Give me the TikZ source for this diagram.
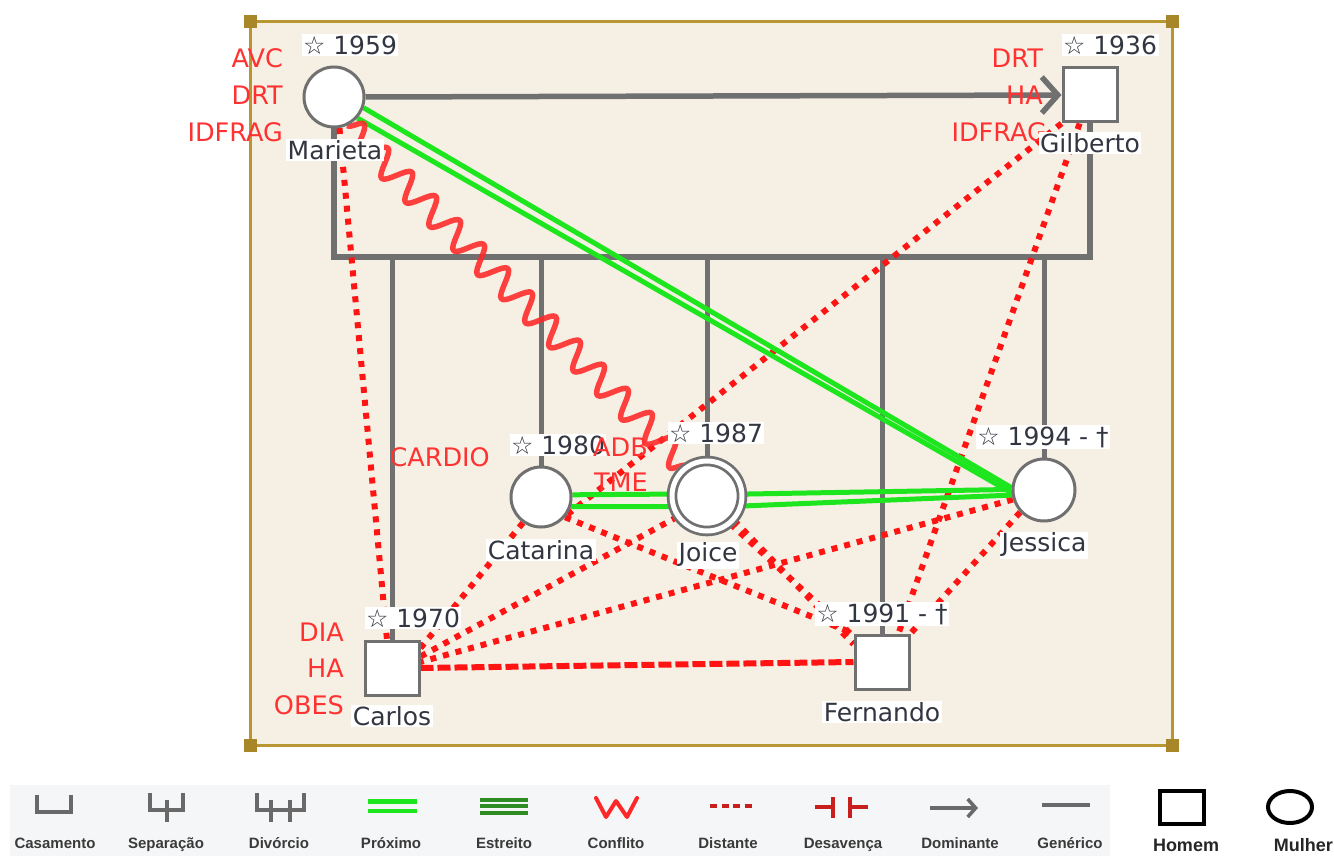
\documentclass[tikz,border=0pt]{standalone}
\usepackage{fontspec}
\setmainfont{DejaVu Sans}
\newfontfamily\legfont{Liberation Sans}
\usetikzlibrary{arrows.meta,decorations.pathmorphing,calc}
\pgfdeclarelayer{frame}
\pgfdeclarelayer{conn}
\pgfdeclarelayer{top}
\pgfsetlayers{frame,conn,main,top}

\definecolor{beige}{RGB}{246,240,228}
\definecolor{gold}{RGB}{184,150,50}
\definecolor{golddark}{RGB}{168,134,42}
\definecolor{lgray}{RGB}{112,112,112}
\definecolor{txt}{RGB}{50,54,64}
\definecolor{rlbl}{RGB}{255,50,50}
\definecolor{proxc}{RGB}{30,230,30}
\definecolor{estrc}{RGB}{46,140,34}
\definecolor{distc}{RGB}{255,20,20}
\definecolor{confc}{RGB}{255,40,40}
\definecolor{legbg}{RGB}{245,246,247}
\definecolor{legtxt}{RGB}{58,58,58}
\definecolor{desavc}{RGB}{200,30,30}
\definecolor{legicon}{RGB}{105,105,105}

\begin{document}
\begin{tikzpicture}[x=1pt,y=-1pt,
  person/.style={draw=lgray, line width=3pt, fill=white, inner sep=0pt},
  woman/.style={person, circle, minimum size=60pt},
  man/.style={person, rectangle, minimum size=54pt},
  joicebox/.style={circle, draw=lgray, double=white, double distance=5pt, line width=2.8pt, fill=white, minimum size=70pt, inner sep=0pt},
  lbl/.style={fill=white, text=txt, inner sep=1.5pt, font=\fontsize{25}{27}\selectfont},
  dis/.style={text=rlbl, anchor=east, inner sep=0pt, font=\fontsize{25.5}{27}\selectfont},
  famline/.style={draw=lgray, line width=6pt, line join=miter},
  childline/.style={draw=lgray, line width=5pt},
  domline/.style={draw=lgray, line width=5.5pt, -{Straight Barb[length=16pt,width=36pt]}},
  proxline/.style={draw=proxc, line width=5pt},
  distline/.style={draw=distc, line width=6pt, dash pattern=on 6pt off 7pt},
  dashline/.style={draw=distc, line width=6pt, dash pattern=on 13pt off 4pt},
  confline/.style={draw=confc, line width=5.5pt, opacity=0.88, line join=round, decorate, decoration={snake, amplitude=13pt, segment length=34pt}},
  leglbl/.style={text=legtxt, inner sep=0pt, anchor=base, font=\legfont\bfseries\fontsize{15}{17}\selectfont},
  legbig/.style={text=black!85, inner sep=0pt, anchor=base, font=\legfont\bfseries\fontsize{18}{20}\selectfont},
  legstroke/.style={draw=legicon, line width=3.5pt}
]
\useasboundingbox (0,0) rectangle (1334,856);

% frame
\begin{pgfonlayer}{frame}
\draw[draw=gold, line width=3pt, fill=beige] (250,22) rectangle (1172,745);
\foreach \p in {(250,22),(1172,22),(250,745),(1172,745)}
  \fill[golddark] \p ++(-6.5,-6.5) rectangle ++(13,13);
\end{pgfonlayer}

% persons
\node[woman] (mar) at (334,97) {};
\node[man] (gil) at (1090,95) {};
\node[woman] (cat) at (541,497) {};
\node[joicebox] (joi) at (707,496) {};
\node[woman, minimum size=62pt] (jes) at (1044,490) {};
\node[man] (car) at (392,668) {};
\node[man] (fer) at (882,662) {};
\coordinate (mbar) at (0,257);

% connectors
\begin{pgfonlayer}{conn}
\draw[famline] (mar.center) -- (mar.center |- mbar) -- (gil.center |- mbar) -- (gil.center);
\foreach \c in {car,cat,joi,fer,jes}
  \draw[childline] (\c.center |- mbar) -- (\c.center);
\draw[domline] (mar.east) -- (gil.west);
% distant
\draw[distline] (mar.-80) -- (car.100);
\draw[distline] (gil.south west) -- (cat.-35);
\draw[distline] (gil.-110) -- (fer.60);
\draw[distline] (jes.-137) -- (fer.north east);
\draw[distline] (jes.197) -- (car.12);
\draw[distline] (cat.-40) -- (fer.north west);
\draw[distline] (joi.-42) -- (fer.148);
\draw[distline] (joi.-50) -- (fer.138);
\draw[distline] (joi.-145) -- (car.22);
\draw[distline] (cat.-125) -- (car.35);
\draw[dashline] (car.east) -- (fer.west);
% close
\draw[proxline] (mar.-20) -- (jes.176);
\draw[proxline] (mar.-42) -- (jes.185);
\draw[proxline] (cat.4) -- (joi.177);
\draw[proxline] (cat.-18) -- (joi.197);
\draw[proxline] (joi.3) -- (jes.179);
\draw[proxline] (joi.-16) -- (jes.189);
% conflict
\draw[confline] (mar.-65) -- (joi.125);
\end{pgfonlayer}

% labels
\begin{pgfonlayer}{top}
\node[dis] (marD1) at (283,58) {AVC};
\node[dis] (marD2) at (283,95) {DRT};
\node[dis] (marD3) at (283,132) {IDFRAG};
\node[dis] (gilD1) at (1043,58) {DRT};
\node[dis] (gilD2) at (1043,95) {HA};
\node[dis] (gilD3) at (1047,132) {IDFRAG};
\node[dis] (catD1) at (490,457) {CARDIO};
\node[dis] (carD1) at (344,632) {DIA};
\node[dis] (carD2) at (344,668) {HA};
\node[dis] (carD3) at (344,705) {OBES};

\node[lbl] (marB) at (350,45) {☆ 1959};
\node[lbl] (marN) at (335,150) {Marieta};
\node[lbl] (gilB) at (1110,45) {☆ 1936};
\node[lbl] (gilN) at (1090,143) {Gilberto};
\node[lbl] (catB) at (558,445) {☆ 1980};
\node[lbl] (catN) at (541,550) {Catarina};
\node[lbl] (joiB) at (716,433) {☆ 1987};
\node[lbl] (joiN) at (708,555) {Joice};
\node[lbl] (jesB) at (1043,437) {☆ 1994 - †};
\node[lbl] (jesN) at (1044,545) {Jessica};
\node[lbl] (carB) at (413,618) {☆ 1970};
\node[lbl] (carN) at (392,716) {Carlos};
\node[lbl] (ferB) at (882,614) {☆ 1991 - †};
\node[lbl] (ferN) at (882,712) {Fernando};

\node[dis] (joiD1) at (648,447) {ADB};
\node[dis] (joiD2) at (648,482) {TME};
\end{pgfonlayer}

% legend
\fill[legbg] (10,785) rectangle (1110,856);
% Casamento
\draw[legstroke] (37,795) -- (37,812) -- (71,812) -- (71,795);
% Separacao
\draw[legstroke] (150,793) -- (150,810) -- (183,810) -- (183,793);
\draw[legstroke] (167,800) -- (167,822);
% Divorcio
\draw[legstroke] (257,793) -- (257,810) -- (304,810) -- (304,793);
\draw[legstroke] (271,800) -- (271,822);
\draw[legstroke] (290,800) -- (290,822);
% Proximo
\draw[draw=proxc, line width=4.5pt] (368,801.5) -- (417,801.5);
\draw[draw=proxc, line width=4.5pt] (368,811) -- (417,811);
% Estreito
\draw[draw=estrc, line width=4pt] (480,799.5) -- (528,799.5);
\draw[draw=estrc, line width=4pt] (480,806) -- (528,806);
\draw[draw=estrc, line width=4pt] (480,812.5) -- (528,812.5);
% Conflito
\draw[draw=confc, line width=4pt, line join=round, line cap=round] (596,798) -- (606,817) -- (616,801) -- (627,817) -- (637,798);
% Distante
\draw[draw=desavc, line width=4.5pt, dash pattern=on 7pt off 4.5pt] (710,806) -- (752,806);
% Desavenca
\draw[draw=desavc, line width=4pt] (815,807) -- (833,807);
\draw[draw=desavc, line width=4pt] (833,797) -- (833,818);
\draw[draw=desavc, line width=4pt] (850,797) -- (850,818);
\draw[draw=desavc, line width=4pt] (850,807) -- (868,807);
% Dominante
\draw[draw=legicon, line width=3.5pt, -{Straight Barb[length=8pt,width=18pt]}] (930,808) -- (978,808);
% Generico
\draw[draw=legicon, line width=3.5pt] (1042,805) -- (1090,805);
% Homem / Mulher
\draw[draw=black, line width=4pt] (1160,791) rectangle (1204,824);
\draw[draw=black, line width=4pt] (1290,807) ellipse [x radius=22pt, y radius=16pt];

\node[leglbl] (l1) at (55,848) {Casamento};
\node[leglbl] (l2) at (166,848) {Separação};
\node[leglbl] (l3) at (279,848) {Divórcio};
\node[leglbl] (l4) at (391,848) {Próximo};
\node[leglbl] (l5) at (504,848) {Estreito};
\node[leglbl] (l6) at (616,848) {Conflito};
\node[leglbl] (l7) at (728,848) {Distante};
\node[leglbl] (l8) at (843,848) {Desavença};
\node[leglbl] (l9) at (960,848) {Dominante};
\node[leglbl] (l10) at (1070,848) {Genérico};
\node[legbig] (l11) at (1186,851) {Homem};
\node[legbig, anchor=base east] (l12) at (1333,851) {Mulher};
\end{tikzpicture}
\end{document}
